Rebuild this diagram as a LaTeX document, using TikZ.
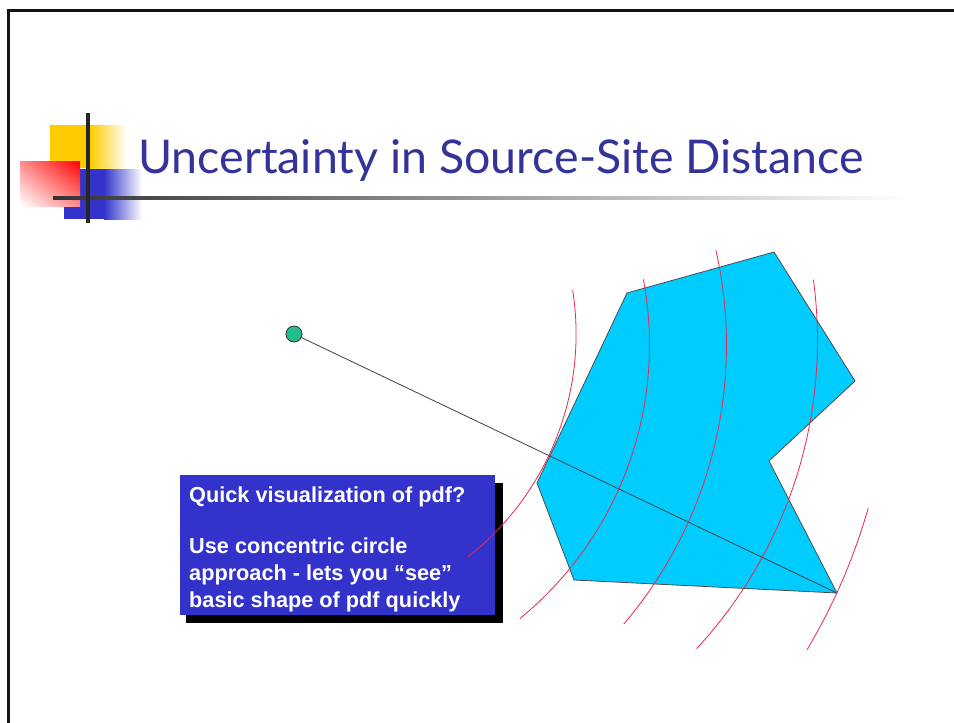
\documentclass[tikz,border=0pt]{standalone}
\usepackage{fontspec}
\setmainfont{Liberation Sans}
\newfontfamily\titlefont{Lato}
\usetikzlibrary{shadings}

\definecolor{titleblue}{RGB}{51,51,153}
\definecolor{boxblue}{RGB}{51,51,204}
\definecolor{regionfill}{RGB}{0,204,255}
\definecolor{srcgreen}{RGB}{32,190,140}
\definecolor{arcred}{RGB}{232,40,80}
\definecolor{logoyellow}{RGB}{255,204,0}
\definecolor{logored}{RGB}{255,0,0}
\definecolor{framegray}{RGB}{20,20,20}

\tikzset{
  frameline/.style={line width=3pt, draw=framegray},
  logobar/.style={line width=4pt, draw=black!85},
  region/.style={fill=regionfill, draw=black!70, line width=0.8pt, line join=miter},
  ray/.style={draw=black!75, line width=0.8pt},
  distarc/.style={draw=arcred, line width=0.8pt, samples=60},
  srcdot/.style={circle, fill=srcgreen, draw=black!80, line width=0.8pt, minimum size=16pt, inner sep=0pt},
  notebox/.style={fill=boxblue, minimum width=315pt, minimum height=140pt, inner sep=0pt, anchor=north west},
  noteshadow/.style={fill=black, minimum width=317pt, minimum height=140pt, inner sep=0pt, anchor=north west},
  notetext/.style={text=white, align=left, anchor=north west, inner sep=0pt,
    font=\fontsize{21.7}{27}\selectfont\bfseries},
  titletext/.style={text=titleblue, anchor=base, inner sep=0pt,
    font=\titlefont\fontsize{46.5}{52}\selectfont}
}

% circular contour: centre x, centre y, radius, start angle, end angle (y grows downwards)
\newcommand\distcontour[5]{%
  \draw[distarc] plot[domain=#4:#5] ({#1+#3*cos(\x)},{#2+#3*sin(\x)});}

\begin{document}
\begin{tikzpicture}[x=1pt,y=-1pt]
\useasboundingbox (0,0) rectangle (954,723);
\fill[white] (0,0) rectangle (954,723);

% slide frame
\draw[frameline] (8,723) -- (8,10) -- (954,10);

% title logo: three fading squares and crossing bars
\fill[logoyellow] (50,125) rectangle (90,168);
\shade[left color=logoyellow, right color=white] (90,125) rectangle (127,168);
\fill[boxblue] (64,169) rectangle (104,219);
\shade[left color=boxblue, right color=white] (104,169) rectangle (142,219);
\shade[upper right=logored, lower left=white,
       upper left=logored!45!white, lower right=logored!45!white] (20,161) rectangle (80,206);
\shade[left color=black!80, right color=white] (53,196.3) rectangle (905,199.7);
\draw[logobar] (88,113) -- (88,223);

% title
\node[titletext] (title) at (501,173) {Uncertainty in Source-Site Distance};

% site region
\coordinate (p1) at (627,293);
\coordinate (p2) at (774,252);
\coordinate (p3) at (855,381);
\coordinate (p4) at (769,461);
\coordinate (p5) at (837,593);
\coordinate (p6) at (574,580);
\coordinate (p7) at (537,483);
\draw[region] (p1) -- (p2) -- (p3) -- (p4) -- (p5) -- (p6) -- (p7) -- cycle;

% note box with drop shadow
\node[noteshadow] (noteshade) at (186,483) {};
\node[notebox] (note) at (180,475) {};
\node[notetext] (notetxt) at (189,486.5) {Quick visualization of pdf?\\[24pt]
Use concentric circle\\
approach - lets you “see”\\
basic shape of pdf quickly};

% source and source-to-site ray
\node[srcdot] (src) at (294,334) {};
\draw[ray] (src) -- (p5);

% distance contours
\distcontour{292.4}{334.1}{283.7}{-8.9}{51.8}
\distcontour{296}{345}{353.5}{-10.7}{50.7}
\distcontour{296}{345}{430.5}{-12.7}{40.4}
\distcontour{364}{340.4}{453.5}{-7.7}{42.8}
\distcontour{296}{345}{595}{15.9}{30.8}

\end{tikzpicture}
\end{document}
